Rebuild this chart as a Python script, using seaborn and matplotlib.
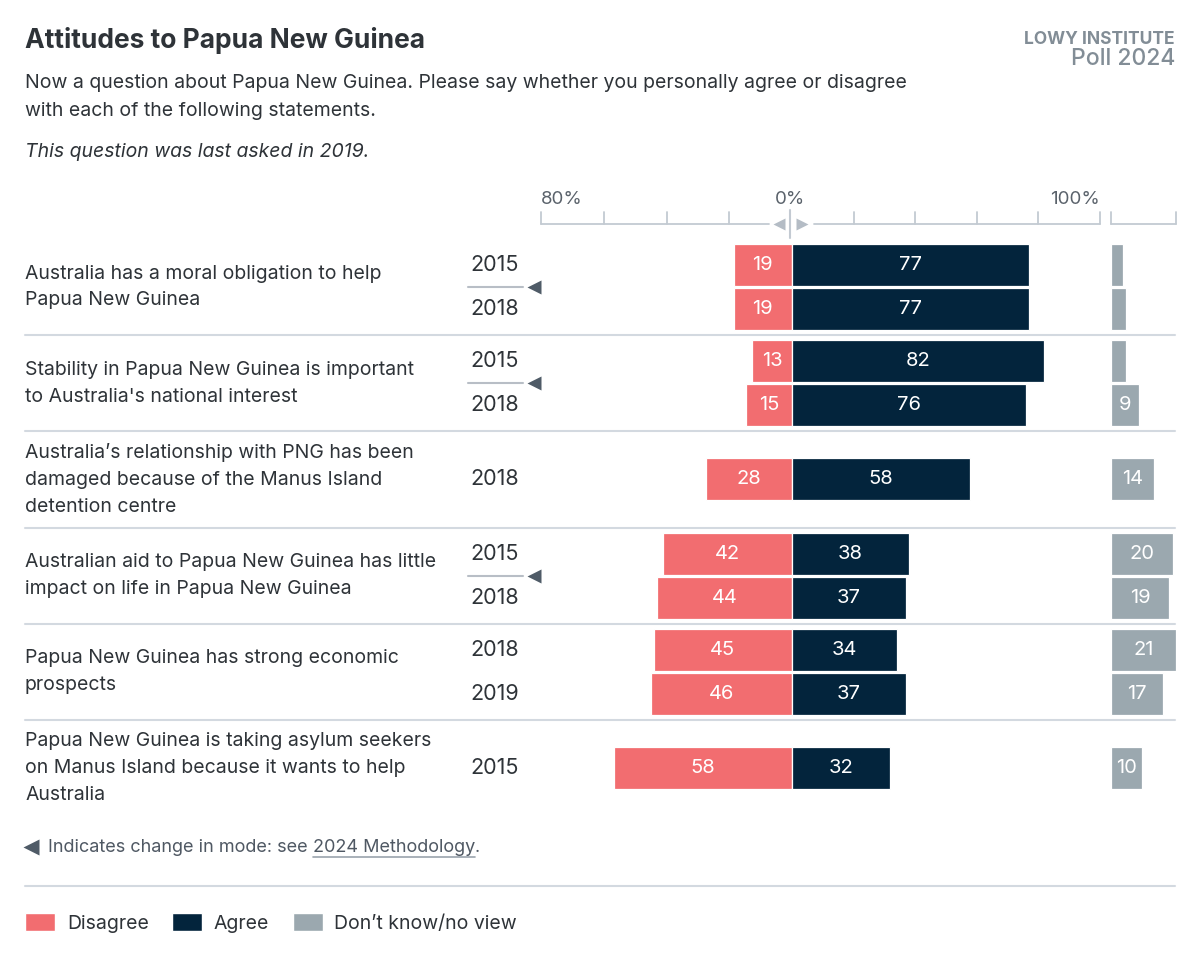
import matplotlib
matplotlib.use("Agg")
import matplotlib.pyplot as plt
import seaborn as sns
import pandas as pd
import numpy as np
from matplotlib.patches import Patch

# ---------------- data ----------------
statements = [
    "Australia has a moral obligation to help\nPapua New Guinea",
    "Stability in Papua New Guinea is important\nto Australia's national interest",
    "Australia’s relationship with PNG has been\ndamaged because of the Manus Island\ndetention centre",
    "Australian aid to Papua New Guinea has little\nimpact on life in Papua New Guinea",
    "Papua New Guinea has strong economic\nprospects",
    "Papua New Guinea is taking asylum seekers\non Manus Island because it wants to help\nAustralia",
]
mode_change = [True, True, False, True, False, False]
row_statement = [0, 0, 1, 1, 2, 3, 3, 4, 4, 5]
row_year = ["2015", "2018", "2015", "2018", "2018", "2015", "2018", "2018", "2019", "2015"]
disagree = [19, 19, 13, 15, 28, 42, 44, 45, 46, 58]
agree = [77, 77, 82, 76, 58, 38, 37, 34, 37, 32]
dont_know = [4, 5, 5, 9, 14, 20, 19, 21, 17, 10]
axis_ticks = [-80, -60, -40, -20, 20, 40, 60, 80, 100]
axis_labels = {-80: "80%", 0: "0%", 100: "100%"}

C_DIS = "#f26d70"
C_AGR = "#03243c"
C_DK = "#9ba8af"
C_TXT = "#2e3338"
C_GRID = "#d3d9e0"
C_TICK = "#c3cad2"

# ---------------- layout ----------------
W, H = 1200, 960
ZERO_PX = 792.0
PPU = 3.075            # pixels per percentage point
DK_PX = 1111.0
Y_TOP, Y_BOT = 180.0, 815.0
G0, GSTEP, ROFF = 287.0, 96.2, 22.0
BAR_H = 42.0

n_groups = len(statements)
group_rows = [[i for i, s in enumerate(row_statement) if s == g] for g in range(n_groups)]
pos = [0.0] * len(row_statement)
centers = []
for g, rows in enumerate(group_rows):
    c = G0 + GSTEP * g
    centers.append(c)
    if len(rows) == 1:
        pos[rows[0]] = c
    else:
        pos[rows[0]] = c - ROFF
        pos[rows[1]] = c + ROFF

sns.set_style("white")
plt.rcParams["font.family"] = ["Inter", "DejaVu Sans"]

fig = plt.figure(figsize=(W / 100, H / 100), dpi=100)

# background / text overlay axes in pixel coordinates
bg = fig.add_axes([0, 0, 1, 1])
bg.set_xlim(0, W)
bg.set_ylim(H, 0)
bg.axis("off")

# main diverging axes
xl, xr = -82.0, 102.0
left_px = ZERO_PX + xl * PPU
right_px = ZERO_PX + xr * PPU
ax = fig.add_axes([left_px / W, 1 - Y_BOT / H, (right_px - left_px) / W, (Y_BOT - Y_TOP) / H])
ax.patch.set_alpha(0)

n = len(row_statement)
df = pd.DataFrame({
    "pos": pos + pos,
    "value": [-d for d in disagree] + agree,
    "response": ["Disagree"] * n + ["Agree"] * n,
})
width = BAR_H / (2 * ROFF)
sns.barplot(data=df, x="value", y="pos", hue="response", orient="y", native_scale=True,
            dodge=False, palette={"Disagree": C_DIS, "Agree": C_AGR}, saturation=1,
            width=width, errorbar=None, legend=False, edgecolor="white", linewidth=0.9, ax=ax)
ax.set_xlim(xl, xr)
ax.set_ylim(Y_BOT, Y_TOP)
ax.axis("off")

for y, d, a in zip(pos, disagree, agree):
    ax.text(-d / 2, y, str(d), ha="center", va="center", color="white", fontsize=14.5)
    ax.text(a / 2, y, str(a), ha="center", va="center", color="white", fontsize=14.5)

# header axis for the main bars
AX_Y = 224
LEFT_TICK_SHIFT = -1.6   # the reference's left scale sits a touch wider
ax.plot([-80 + LEFT_TICK_SHIFT, -7.5], [AX_Y, AX_Y], color=C_TICK, lw=1.3, clip_on=False)
ax.plot([7.0, 100], [AX_Y, AX_Y], color=C_TICK, lw=1.3, clip_on=False)
for t in axis_ticks:
    tt = t + (LEFT_TICK_SHIFT * (t / -80.0) if t < 0 else 0)
    ax.plot([tt, tt], [AX_Y, AX_Y - 12], color=C_TICK, lw=1.3, clip_on=False)
ax.plot([-0.6, -0.6], [AX_Y - 14, AX_Y + 14], color=C_TICK, lw=1.5, clip_on=False)
ax.plot([-4.3], [AX_Y], marker="<", color="#b4bcc5", markersize=8, mec="none", clip_on=False)
ax.plot([3.3], [AX_Y], marker=">", color="#b4bcc5", markersize=8, mec="none", clip_on=False)
ax.text(-80 + LEFT_TICK_SHIFT, 199, axis_labels[-80], ha="left", va="center", fontsize=13.5, color="#5a626b")
ax.text(-0.6, 199, axis_labels[0], ha="center", va="center", fontsize=13.5, color="#5a626b")
ax.text(100, 199, axis_labels[100], ha="right", va="center", fontsize=13.5, color="#5a626b")

# don't know axes
dk_xr = 21.0
axd = fig.add_axes([DK_PX / W, 1 - Y_BOT / H, dk_xr * PPU / W, (Y_BOT - Y_TOP) / H])
axd.patch.set_alpha(0)
dfd = pd.DataFrame({"pos": pos, "value": dont_know})
sns.barplot(data=dfd, x="value", y="pos", orient="y", native_scale=True, color=C_DK,
            saturation=1, width=width, errorbar=None, edgecolor="white", linewidth=0.9, ax=axd)
axd.set_xlim(0, dk_xr)
axd.set_ylim(Y_BOT, Y_TOP)
axd.axis("off")
for y, v in zip(pos, dont_know):
    if v >= 8:
        axd.text(v / 2, y, str(v), ha="center", va="center", color="white", fontsize=14.5)
axd.plot([0, dk_xr], [AX_Y, AX_Y], color=C_TICK, lw=1.3, clip_on=False)
for t in [0, dk_xr]:
    axd.plot([t, t], [AX_Y, AX_Y - 12], color=C_TICK, lw=1.3, clip_on=False)

# ---------------- texts ----------------
bg.text(25, 40, "Attitudes to Papua New Guinea", fontsize=19, fontweight="bold",
        color=C_TXT, ha="left", va="center")
bg.text(25, 97, "Now a question about Papua New Guinea. Please say whether you personally agree or disagree\nwith each of the following statements.",
        fontsize=14, color=C_TXT, ha="left", va="center", linespacing=1.68)
bg.text(25, 152, "This question was last asked in 2019.", fontsize=14, style="italic",
        color=C_TXT, ha="left", va="center")
bg.text(1175, 39, "LOWY INSTITUTE", fontsize=12.5, fontweight="bold", color="#828d96",
        ha="right", va="center")
bg.text(1175, 59, "Poll 2024", fontsize=16.5, fontweight="medium", color="#828d96",
        ha="right", va="center")

for g, c in enumerate(centers):
    bg.text(25, c, statements[g], fontsize=14, color=C_TXT, ha="left", va="center",
            linespacing=1.62)
    if mode_change[g]:
        bg.plot([468, 523], [c, c], color="#b8bec6", lw=1.5)
        bg.plot([534], [c], marker="<", color="#4f5b67", markersize=10.5, mec="none")
    if g < n_groups - 1:
        yline = c + GSTEP / 2
        bg.plot([25, 1175], [yline, yline], color=C_GRID, lw=1.5)

for y, yr in zip(pos, row_year):
    bg.text(470, y, yr, fontsize=15.5, color=C_TXT, ha="left", va="center")

# footnote
bg.plot([31], [847], marker="<", color="#4f5b67", markersize=11.5, mec="none")
t1 = bg.text(48, 847, "Indicates change in mode: see", fontsize=13, color="#4f5863",
             ha="left", va="center")
fig.canvas.draw()
r = fig.canvas.get_renderer()
inv = bg.transData.inverted()
bb = t1.get_window_extent(r)
x_end = inv.transform((bb.x1, bb.y0))[0]
t2 = bg.text(x_end + 5, 847, "2024 Methodology", fontsize=13, color="#4f5863",
             ha="left", va="center")
bb2 = t2.get_window_extent(r)
x2a = inv.transform((bb2.x0, bb2.y0))[0]
x2b = inv.transform((bb2.x1, bb2.y0))[0]
bg.plot([x2a, x2b], [857, 857], color="#9aa3ad", lw=1.2)
bg.text(x2b, 847, ".", fontsize=13, color="#4f5863", ha="left", va="center")

bg.plot([25, 1175], [886, 886], color=C_GRID, lw=1.5)

handles = [Patch(facecolor=C_DIS), Patch(facecolor=C_AGR), Patch(facecolor=C_DK)]
labels = ["Disagree", "Agree", "Don’t know/no view"]
fig.legend(handles, labels, ncol=3, frameon=False, loc="center left",
           bbox_to_anchor=(25 / W, 1 - 923 / H), fontsize=14, handlelength=1.55,
           handleheight=1.05, handletextpad=0.6, columnspacing=1.2, borderpad=0,
           borderaxespad=0, labelcolor=C_TXT)

fig.savefig("out.png", dpi=100)
